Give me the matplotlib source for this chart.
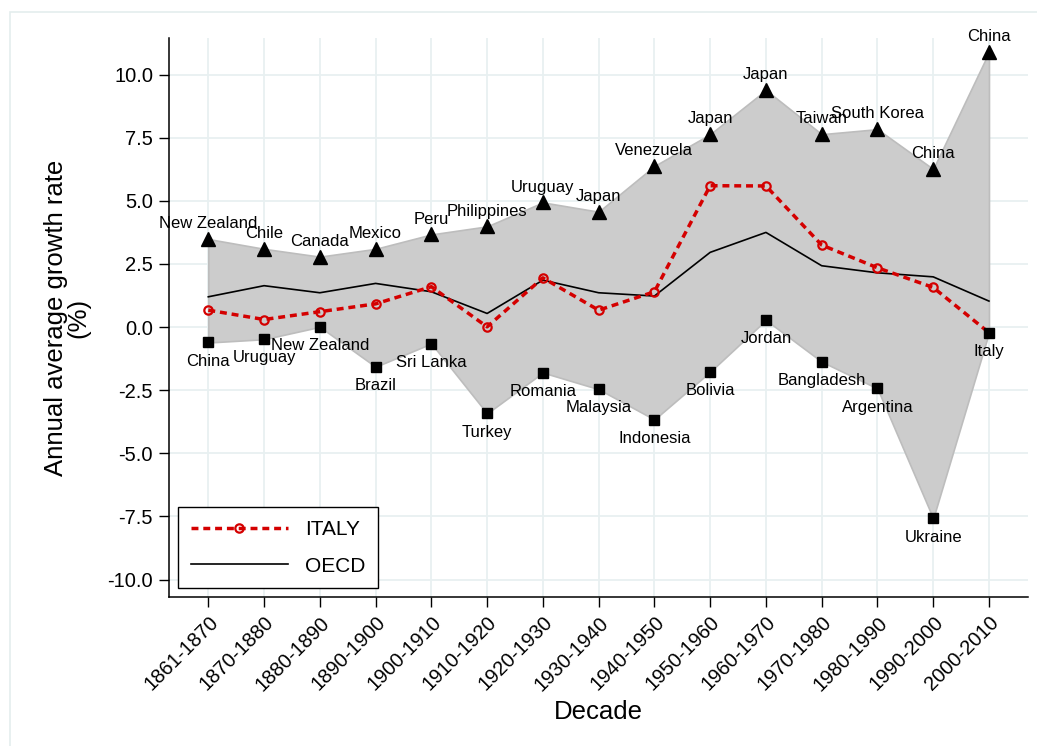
import matplotlib

matplotlib.use("Agg")
import matplotlib.pyplot as plt
from matplotlib.patches import Rectangle

plt.rcParams["font.family"] = ["Liberation Sans", "DejaVu Sans"]
plt.rcParams["axes.unicode_minus"] = False

decades = ["1861-1870", "1870-1880", "1880-1890", "1890-1900", "1900-1910",
           "1910-1920", "1920-1930", "1930-1940", "1940-1950", "1950-1960",
           "1960-1970", "1970-1980", "1980-1990", "1990-2000", "2000-2010"]

max_vals = [3.49, 3.10, 2.79, 3.10, 3.67, 3.99, 4.94, 4.57, 6.38, 7.64,
            9.39, 7.64, 7.84, 6.26, 10.89]
max_countries = ["New Zealand", "Chile", "Canada", "Mexico", "Peru", "Philippines",
                 "Uruguay", "Japan", "Venezuela", "Japan", "Japan", "Taiwan",
                 "South Korea", "China", "China"]

min_vals = [-0.61, -0.48, 0.01, -1.57, -0.65, -3.42, -1.80, -2.46, -3.66, -1.77,
            0.28, -1.37, -2.43, -7.58, -0.22]
min_countries = ["China", "Uruguay", "New Zealand", "Brazil", "Sri Lanka", "Turkey",
                 "Romania", "Malaysia", "Indonesia", "Bolivia", "Jordan", "Bangladesh",
                 "Argentina", "Ukraine", "Italy"]

italy = [0.67, 0.30, 0.61, 0.92, 1.60, 0.01, 1.95, 0.67, 1.40, 5.60,
         5.59, 3.25, 2.35, 1.57, -0.22]
oecd = [1.20, 1.64, 1.36, 1.73, 1.40, 0.54, 1.86, 1.36, 1.23, 2.96,
        3.75, 2.43, 2.15, 1.99, 1.03]

yticks = [-10.0, -7.5, -5.0, -2.5, 0.0, 2.5, 5.0, 7.5, 10.0]

fig = plt.figure(figsize=(10.37, 7.46), dpi=100)
# light outer frame, as in the source graph
fig.patches.append(Rectangle((10 / 1037, -0.05), 1.05, 1.05 - 12 / 746,
                             transform=fig.transFigure, fill=False,
                             edgecolor="#e4eded", linewidth=1.2))
ax = fig.add_axes([169 / 1037, 1 - 597 / 746, 859 / 1037, 559 / 746])

x = list(range(len(decades)))
ax.fill_between(x, min_vals, max_vals, facecolor="#cccccc", edgecolor="#bdbdbd",
                linewidth=1.2, zorder=1)
ax.plot(x, max_vals, linestyle="none", marker="^", markersize=9.5, color="black", zorder=4)
ax.plot(x, min_vals, linestyle="none", marker="s", markersize=7.5, color="black", zorder=4)
ax.plot(x, oecd, color="black", linewidth=1.2, zorder=2, label="OECD")
ax.plot(x, italy, color="#d40000", linewidth=2.5, linestyle=(0, (2.0, 1.4)),
        marker="o", markersize=6, markerfacecolor="none", markeredgewidth=1.6,
        zorder=3, label="ITALY")

for xi, v, name in zip(x, max_vals, max_countries):
    ax.annotate(name, (xi, v), xytext=(0, 11), textcoords="offset points",
                ha="center", va="center", fontsize=12)
for xi, v, name in zip(x, min_vals, min_countries):
    ax.annotate(name, (xi, v), xytext=(0, -13.5), textcoords="offset points",
                ha="center", va="center", fontsize=12)

ax.set_xlim(-0.705, 14.70)
ax.set_ylim(-10.69, 11.45)
ax.set_xticks(x)
ax.set_xticklabels(decades, rotation=45, ha="right", rotation_mode="anchor", fontsize=14.5)
ax.set_yticks(yticks)
ax.set_yticklabels([f"{t:.1f}" for t in yticks], fontsize=14.5)
ax.tick_params(direction="out", length=7.5, width=1, pad=4)

ax.grid(True, color="#e8f0f1", linewidth=1.3)
ax.set_axisbelow(True)
for side in ["top", "right"]:
    ax.spines[side].set_visible(False)
for side in ["left", "bottom"]:
    ax.spines[side].set_linewidth(1.1)

ax.set_xlabel("Decade", fontsize=18.5, labelpad=4)
ax.set_ylabel("Annual average growth rate\n(%)", fontsize=18.5, labelpad=12,
              linespacing=0.95)

handles, labels = ax.get_legend_handles_labels()
leg = ax.legend(handles[::-1], labels[::-1], loc="lower left",
                bbox_to_anchor=(0.0105, 0.016), borderaxespad=0, fontsize=15,
                frameon=True, fancybox=False, edgecolor="black", framealpha=1,
                handlelength=4.7, handletextpad=0.8, labelspacing=0.85,
                borderpad=0.6, numpoints=1)
leg.get_frame().set_linewidth(1.0)

fig.savefig("out.png", dpi=100)
